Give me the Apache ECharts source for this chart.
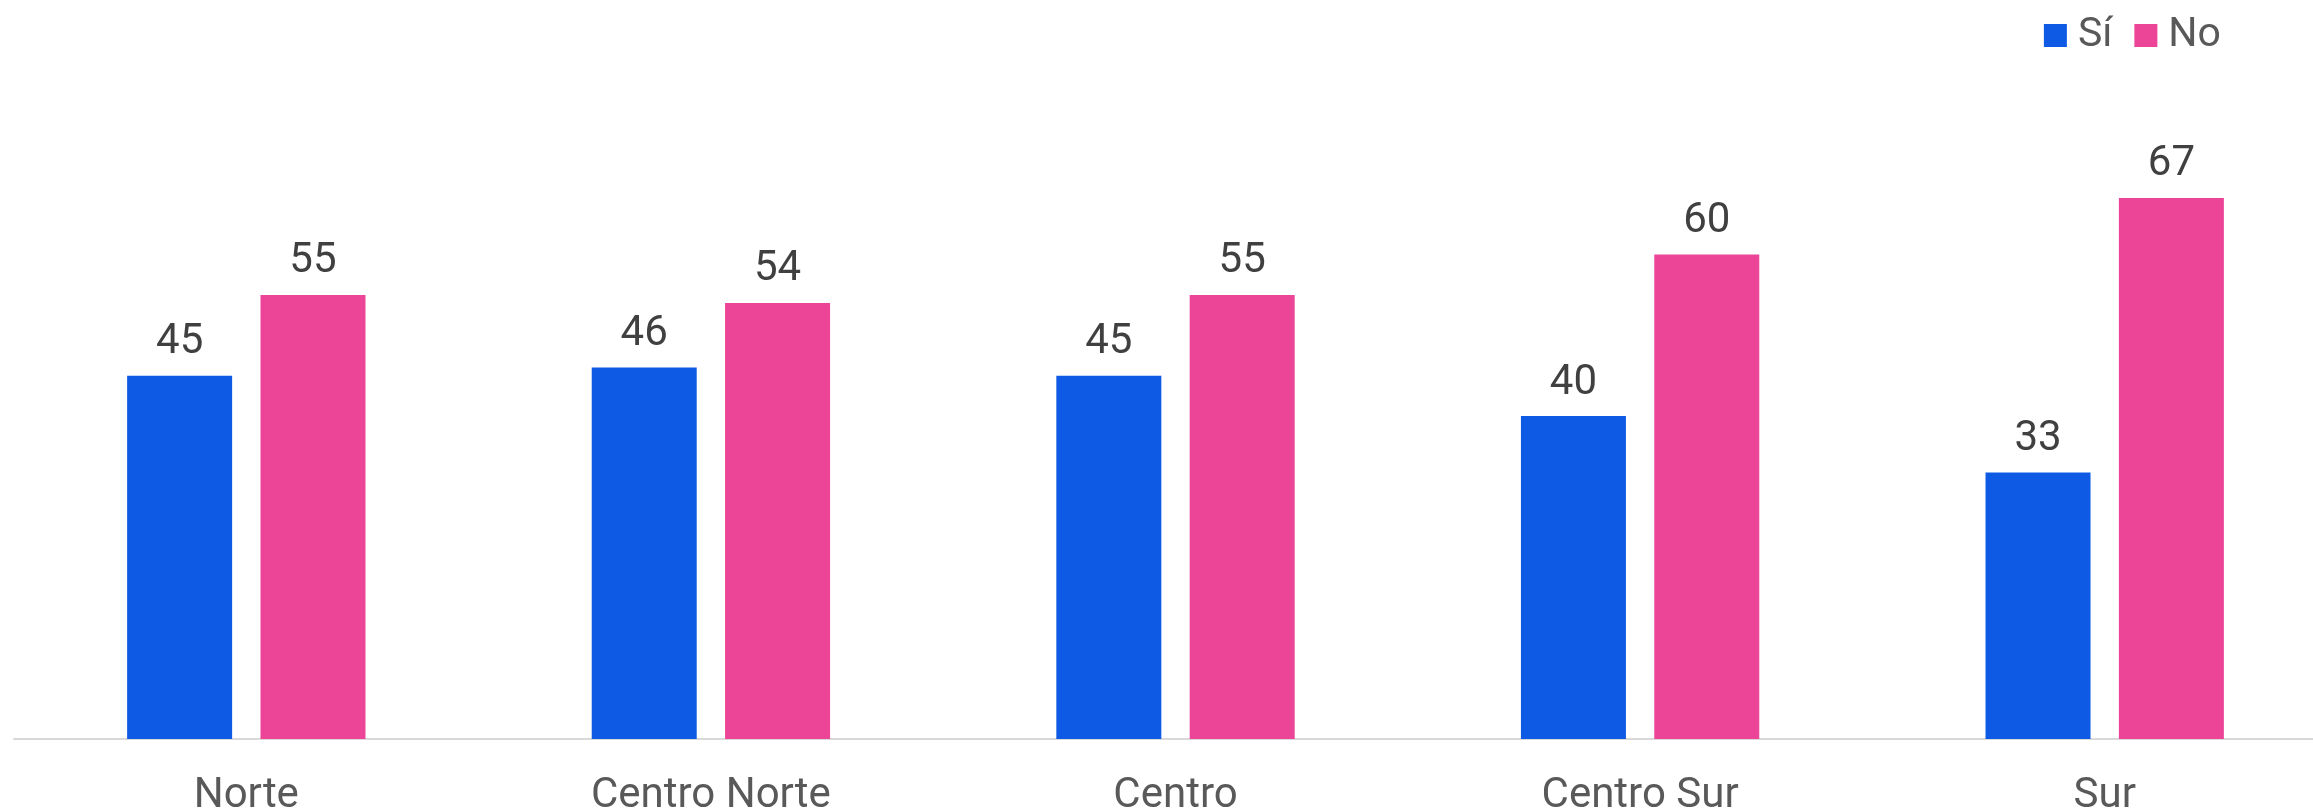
<!DOCTYPE html>
<html>
<head>
<meta charset="utf-8">
<script src="https://cdn.jsdelivr.net/npm/echarts@6/dist/echarts.min.js"></script>
<style>html,body{margin:0;padding:0;background:#fff;}#c{width:2313px;height:810px;}</style>
</head>
<body>
<div id="c"></div>
<script>
const categories = ["Norte", "Centro Norte", "Centro", "Centro Sur", "Sur"];
const siValues = [45, 46, 45, 40, 33];
const noValues = [55, 54, 55, 60, 67];
const seriesNames = ["Sí", "No"];

const chart = echarts.init(document.getElementById('c'));
const labelStyle = {show: true, position: 'top', distance: 12, color: '#404040', fontSize: 42, fontFamily: 'Roboto'};
chart.setOption({
  animation: false,
  legend: {
    right: 87, top: 10, itemWidth: 23, itemHeight: 23, itemGap: 22, icon: 'rect',
    textStyle: {color: '#595959', fontSize: 41, fontFamily: 'Roboto', padding: [0, 0, 0, 6]}
  },
  grid: {left: 14, width: 2323, top: 93, bottom: 71, containLabel: false, outerBoundsMode: 'none'},
  xAxis: {
    type: 'category', data: categories,
    axisLine: {lineStyle: {color: '#d9d9d9', width: 2}},
    axisTick: {show: false},
    axisLabel: {color: '#595959', fontSize: 42, fontFamily: 'Roboto', margin: 36}
  },
  yAxis: {type: 'value', min: 0, max: 80, show: false, splitLine: {show: false}},
  series: [
    {name: seriesNames[0], type: 'bar', data: siValues, barWidth: 105, barGap: '27%', itemStyle: {color: '#0f5ae5'}, label: labelStyle},
    {name: seriesNames[1], type: 'bar', data: noValues, barWidth: 105, itemStyle: {color: '#ec4497'}, label: labelStyle}
  ]
});
</script>
</body>
</html>
